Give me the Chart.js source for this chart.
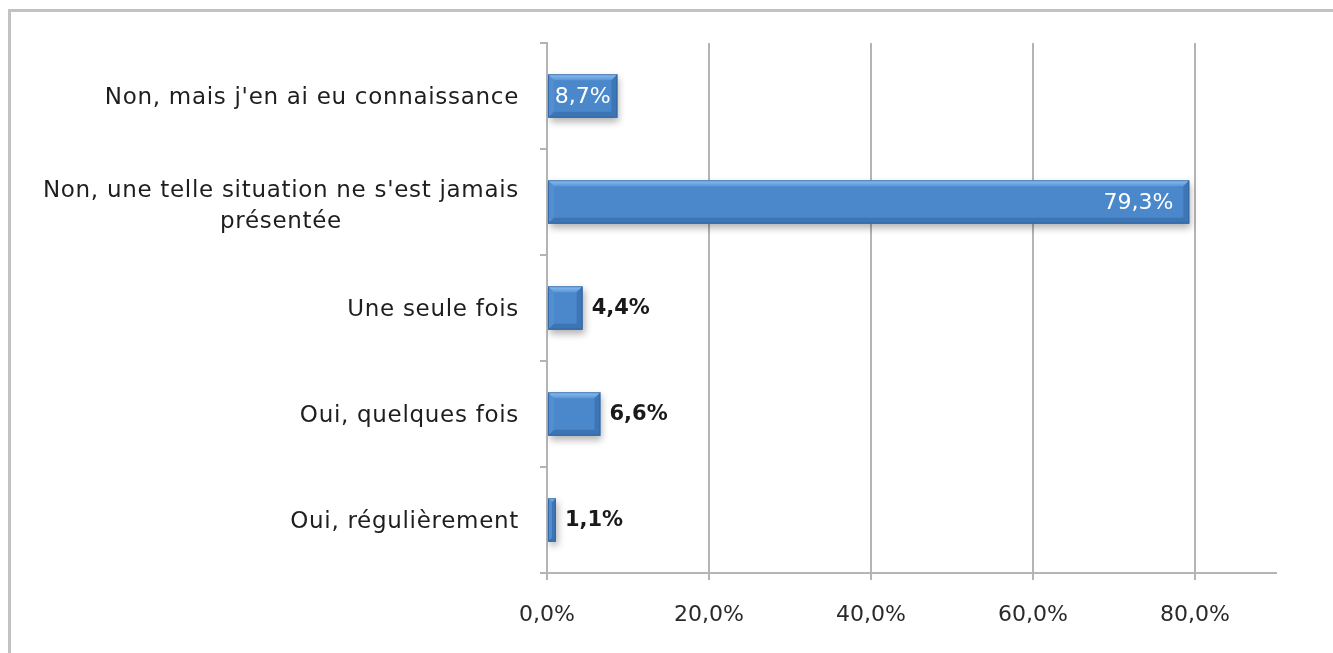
<!DOCTYPE html>
<html>
<head>
<meta charset="utf-8">
<script src="https://cdn.jsdelivr.net/npm/chart.js@4.4.1/dist/chart.umd.min.js"></script>
<style>
html, body { margin: 0; padding: 0; background: #fff; overflow: hidden; }
#frame { position: absolute; left: 8px; top: 9px; width: 1340px; height: 660px;
         border-top: 3px solid #c2c2c2; border-left: 3px solid #c2c2c2; }
#wrap { position: absolute; left: 0; top: 0; width: 1333px; height: 653px; }
</style>
</head>
<body>
<div id="frame"></div>
<div id="wrap"><canvas id="speedChart" width="1333" height="653"></canvas></div>
<script>
// categories top -> bottom, multi-line labels as arrays
var categories = [
  ["Non, mais j'en ai eu connaissance"],
  ["Non, une telle situation ne s'est jamais", "présentée"],
  ["Une seule fois"],
  ["Oui, quelques fois"],
  ["Oui, régulièrement"]
];
var values = [8.7, 79.3, 4.4, 6.6, 1.1];
var xTicks = [0, 20, 40, 60, 80];

var FONT = '"DejaVu Sans", "Liberation Sans", sans-serif';

function fmt(v) {
  return v.toFixed(1).replace('.', ',') + '%';
}

// face gradient for each bar
function barFace(context) {
  var chart = context.chart;
  var el = context.element;
  if (!chart.chartArea || !el) return '#4a88cb';
  var p = el.getProps(['y', 'height'], true);
  if (!isFinite(p.y) || !p.height) return '#4a88cb';
  var g = chart.ctx.createLinearGradient(0, p.y - p.height / 2, 0, p.y + p.height / 2);
  g.addColorStop(0, '#5b9ee2');
  g.addColorStop(0.4, '#4c8dd1');
  g.addColorStop(1, '#3b77bb');
  return g;
}

var shadowPlugin = {
  id: 'barShadow',
  beforeDatasetsDraw: function(chart) {
    var ctx = chart.ctx;
    ctx.save();
    ctx.shadowColor = 'rgba(0,0,0,0.30)';
    ctx.shadowBlur = 7;
    ctx.shadowOffsetX = 2;
    ctx.shadowOffsetY = 4;
  },
  afterDatasetsDraw: function(chart) {
    var ctx = chart.ctx;
    ctx.restore();
    // soft bevel on every bar
    var meta = chart.getDatasetMeta(0);
    meta.data.forEach(function(el) {
      var L = el.base, R = el.x, T = el.y - el.height / 2, B = el.y + el.height / 2;
      var b = Math.min(6, (R - L) / 2);
      function quad(pts, fill) {
        ctx.beginPath();
        ctx.moveTo(pts[0], pts[1]);
        for (var k = 2; k < pts.length; k += 2) ctx.lineTo(pts[k], pts[k + 1]);
        ctx.closePath();
        ctx.fillStyle = fill;
        ctx.fill();
      }
      ctx.save();
      var gt = ctx.createLinearGradient(0, T, 0, T + b);
      gt.addColorStop(0, 'rgba(170,215,255,0.75)');
      gt.addColorStop(1, 'rgba(140,195,250,0.25)');
      quad([L, T, R, T, R - b, T + b, L + b, T + b], gt);
      quad([L, B, R, B, R - b, B - b, L + b, B - b], 'rgba(20,55,110,0.25)');
      quad([L, T, L + b, T + b, L + b, B - b, L, B], 'rgba(150,200,250,0.12)');
      quad([R, T, R - b, T + b, R - b, B - b, R, B], 'rgba(20,55,110,0.22)');
      ctx.strokeStyle = 'rgba(40,90,150,0.7)';
      ctx.lineWidth = 1;
      ctx.strokeRect(L + 0.5, T + 0.5, R - L - 1, B - T - 1);
      ctx.restore();
    });
  }
};

var valueLabelPlugin = {
  id: 'valueLabels',
  afterDatasetsDraw: function(chart) {
    var ctx = chart.ctx;
    var meta = chart.getDatasetMeta(0);
    ctx.save();
    ctx.textBaseline = 'middle';
    meta.data.forEach(function(el, i) {
      var v = values[i];
      if (v > 8) {
        ctx.font = '22px ' + FONT;
        ctx.fillStyle = '#ffffff';
        if (el.x - el.base > 100) {
          ctx.textAlign = 'right';
          ctx.fillText(fmt(v), el.x - 16, el.y + 1);
        } else {
          ctx.textAlign = 'center';
          ctx.fillText(fmt(v), (el.x + el.base) / 2, el.y + 1);
        }
      } else {
        ctx.font = 'bold 21px ' + FONT;
        ctx.fillStyle = '#1a1a1a';
        ctx.textAlign = 'left';
        ctx.fillText(fmt(v), el.x + 9, el.y + 1);
      }
    });
    ctx.restore();
  }
};

var yLabelPlugin = {
  id: 'yLabels',
  afterDraw: function(chart) {
    var ctx = chart.ctx;
    var ys = chart.scales.y;
    ctx.save();
    ctx.font = '23px ' + FONT;
    ctx.letterSpacing = '0.7px';
    ctx.fillStyle = '#1e1e1e';
    ctx.textBaseline = 'middle';
    ctx.textAlign = 'center';
    var right = ys.right - 28;
    chart.data.labels.forEach(function(lines, i) {
      var yc = ys.getPixelForTick(i);
      var w = 0;
      lines.forEach(function(l) { w = Math.max(w, ctx.measureText(l).width); });
      var lh = 31;
      var y0 = yc - (lines.length - 1) * lh / 2 + (lines.length > 1 ? 5 : 2);
      lines.forEach(function(l, j) {
        ctx.fillText(l, right - w / 2, y0 + j * lh);
      });
    });
    ctx.restore();
  }
};

var ctx = document.getElementById('speedChart');
var theChart = new Chart(ctx, {
  type: 'bar',
  data: {
    labels: categories,
    datasets: [{
      data: values,
      backgroundColor: barFace,
      borderWidth: 0,
      categoryPercentage: 1,
      barPercentage: 0.41
    }]
  },
  options: {
    indexAxis: 'y',
    responsive: false,
    animation: false,
    events: [],
    layout: { padding: { left: 0, right: 57, top: 43, bottom: 0 } },
    plugins: { legend: { display: false }, tooltip: { enabled: false } },
    scales: {
      x: {
        min: 0,
        max: 90,
        afterBuildTicks: function(scale) {
          scale.ticks = xTicks.map(function(v) { return { value: v }; });
        },
        afterFit: function(scale) { scale.height = 80; },
        grid: { color: '#b4b4b4', lineWidth: 2, tickLength: 7 },
        border: { display: true, color: '#b4b4b4', width: 2 },
        ticks: {
          padding: 22,
          color: '#2a2a2a',
          font: { family: FONT, size: 22 },
          callback: function(v) { return fmt(v); }
        }
      },
      y: {
        afterFit: function(scale) { scale.width = 547; },
        grid: { offset: true, drawOnChartArea: false, color: '#b4b4b4', lineWidth: 2, tickLength: 7 },
        border: { display: true, color: '#b4b4b4', width: 2 },
        ticks: { display: false }
      }
    }
  },
  plugins: [shadowPlugin, valueLabelPlugin, yLabelPlugin]
});
</script>
</body>
</html>
